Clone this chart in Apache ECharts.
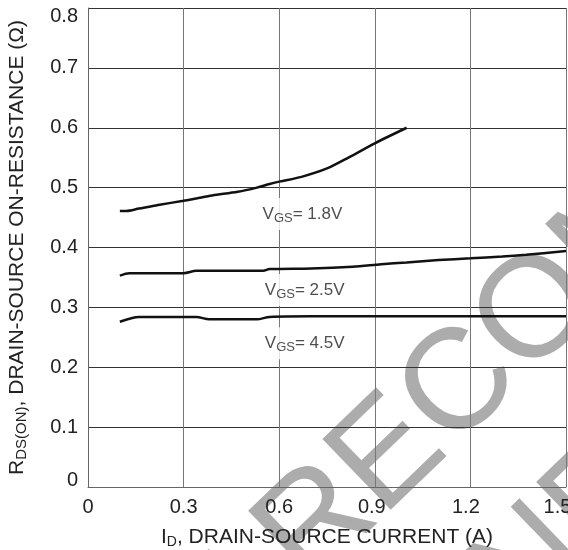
<!DOCTYPE html>
<html>
<head>
<meta charset="utf-8">
<script src="https://cdn.jsdelivr.net/npm/echarts@6/dist/echarts.min.js"></script>
<style>html,body{margin:0;padding:0;background:#fff}#c{width:568px;height:550px}</style>
</head>
<body>
<div id="c"></div>
<script>
// X ticks / axis
var xTicks = [0, 0.3, 0.6, 0.9, 1.2, 1.5];
var yTicks = [0, 0.1, 0.2, 0.3, 0.4, 0.5, 0.6, 0.7, 0.8];

// VGS = 1.8V
var x18 = [0.1, 0.12, 0.16, 0.22, 0.3, 0.34, 0.39, 0.47, 0.53, 0.57, 0.6, 0.67, 0.75, 0.82, 0.9, 1.0];
var y18 = [0.461, 0.461, 0.465, 0.471, 0.478, 0.482, 0.487, 0.493, 0.5, 0.506, 0.51, 0.518, 0.532, 0.551, 0.574, 0.6];
// VGS = 2.5V
var x25 = [0.1, 0.13, 0.3, 0.34, 0.55, 0.57, 0.7, 0.83, 0.92, 1.0, 1.1, 1.2, 1.3, 1.375, 1.5];
var y25 = [0.353, 0.357, 0.357, 0.361, 0.361, 0.364, 0.365, 0.368, 0.372, 0.375, 0.379, 0.382, 0.385, 0.388, 0.394];
// VGS = 4.5V
var x45 = [0.1, 0.16, 0.34, 0.38, 0.53, 0.57, 0.7, 1.0, 1.5];
var y45 = [0.276, 0.284, 0.284, 0.28, 0.28, 0.284, 0.285, 0.285, 0.285];

// curve labels
var labelNames = ['1.8V', '2.5V', '4.5V'];
var labelX = [0.673, 0.68, 0.68];
var labelY = [0.456, 0.329, 0.24];

var watermark1 = 'NOT RECOMMENDED';
var watermark2 = 'FOR NEW DESIGN';

function zip(xs, ys) { return xs.map(function (v, i) { return [v, ys[i]]; }); }
function fmt(v) { return v === 0 ? '0' : (Math.round(v * 10) / 10).toFixed(1); }

var FONT = "'Liberation Sans', Arial, sans-serif";
var chart = echarts.init(document.getElementById('c'), null, { renderer: 'canvas' });

var lineStyle = { color: '#111', width: 2.5 };
var ang = 44 * Math.PI / 180;
var wmStyle = function (t) {
  return { text: t, fill: '#acacac', font: '143px ' + FONT, fontSize: 143, fontFamily: FONT,
           textAlign: 'center', textVerticalAlign: 'middle', align: 'center', verticalAlign: 'middle' };
};
var tickRich = function (pr) {
  return { fontSize: 20, color: '#222', fontFamily: FONT, padding: [0, pr, 0, 0] };
};

chart.setOption({
  backgroundColor: '#fff',
  animation: false,
  textStyle: { fontFamily: FONT },
  grid: { left: 88, right: 2, top: 8, bottom: 63, containLabel: false, outerBoundsMode: 'none' },
  graphic: [
    { type: 'text', x: 572, y: 280, rotation: ang, z: -10, silent: true, style: wmStyle(watermark1) },
    { type: 'text', x: 703, y: 403, rotation: ang, z: -10, silent: true, style: wmStyle(watermark2) }
  ],
  xAxis: {
    type: 'value', min: xTicks[0], max: xTicks[xTicks.length - 1], interval: 0.3,
    axisLine: { show: true, lineStyle: { color: '#666', width: 1 } },
    axisTick: { show: false },
    splitLine: { show: true, lineStyle: { color: '#777', width: 1 } },
    axisLabel: {
      color: '#222', fontSize: 20, margin: 10, fontFamily: FONT, showMaxLabel: true,
      formatter: function (v) {
        var s = fmt(v);
        if (s === '1.5') return '{a|' + s + '}';
        if (s === '1.2') return '{b|' + s + '}';
        if (s === '0.9') return '{c|' + s + '}';
        return s;
      },
      rich: { a: tickRich(17), b: tickRich(9), c: tickRich(6) }
    },
    name: '{n|I}{s|D}{n|, DRAIN-SOURCE CURRENT (A)}',
    nameLocation: 'middle', nameGap: 38,
    nameTextStyle: {
      rich: {
        n: { fontSize: 21, color: '#222', fontFamily: FONT, lineHeight: 24, verticalAlign: 'middle' },
        s: { fontSize: 14, color: '#222', fontFamily: FONT, padding: [11, 0, 0, 0], verticalAlign: 'bottom', lineHeight: 15 }
      }
    }
  },
  yAxis: {
    type: 'value', min: yTicks[0], max: yTicks[yTicks.length - 1], interval: 0.1,
    axisLine: { show: true, lineStyle: { color: '#666', width: 1 } },
    axisTick: { show: false },
    splitLine: { show: true, lineStyle: { color: '#333', width: 1 } },
    axisLabel: {
      color: '#222', fontSize: 20, margin: 10, fontFamily: FONT,
      formatter: function (v) {
        if (v === yTicks[yTicks.length - 1]) return '{top|' + fmt(v) + '}';
        if (v === yTicks[0]) return '{bot|' + fmt(v) + '}';
        return fmt(v);
      },
      rich: {
        top: { fontSize: 20, color: '#222', fontFamily: FONT, padding: [16, 0, 0, 0] },
        bot: { fontSize: 20, color: '#222', fontFamily: FONT, padding: [0, 0, 13, 0] }
      }
    },
    name: '{n|R}{s|DS(ON)}{n|, DRAIN-SOURCE ON-RESISTANCE (Ω)}',
    nameLocation: 'middle', nameGap: 59, nameRotate: 90,
    nameTextStyle: {
      rich: {
        n: { fontSize: 21, color: '#222', fontFamily: FONT, lineHeight: 24, verticalAlign: 'middle' },
        s: { fontSize: 15, color: '#222', fontFamily: FONT, padding: [11, 0, 0, 0], verticalAlign: 'bottom', lineHeight: 15 }
      }
    }
  },
  series: [
    { type: 'line', data: zip(x18, y18), showSymbol: false, smooth: 0.3, lineStyle: lineStyle, z: 3 },
    { type: 'line', data: zip(x25, y25), showSymbol: false, smooth: 0.3, lineStyle: lineStyle, z: 3 },
    { type: 'line', data: zip(x45, y45), showSymbol: false, smooth: 0.3, lineStyle: lineStyle, z: 3 },
    {
      type: 'scatter', symbolSize: 1, itemStyle: { color: 'rgba(0,0,0,0)' }, z: 2,
      data: labelNames.map(function (n, i) { return { value: [labelX[i], labelY[i]], name: n }; }),
      label: {
        show: true, position: 'inside',
        formatter: function (p) { return '{v|V}{s|GS}{t|= ' + p.name + '}'; },
        backgroundColor: '#fff', padding: [5, 6, 5, 6],
        rich: {
          v: { fontSize: 17, color: '#222', fontFamily: FONT, lineHeight: 22, verticalAlign: 'middle' },
          s: { fontSize: 13, color: '#222', fontFamily: FONT, padding: [9, 0, 0, 0], verticalAlign: 'bottom', lineHeight: 13 },
          t: { fontSize: 17, color: '#222', fontFamily: FONT, lineHeight: 22, verticalAlign: 'middle' }
        }
      }
    }
  ]
});
</script>
</body>
</html>
